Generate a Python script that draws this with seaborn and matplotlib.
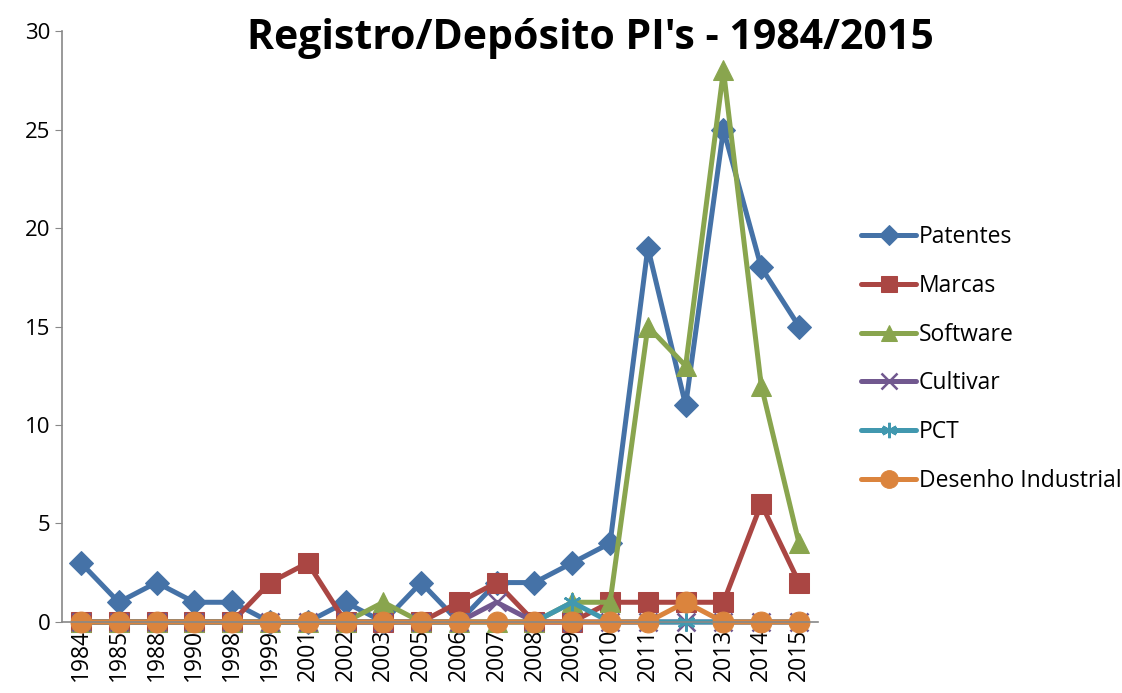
import numpy as np
import pandas as pd
import seaborn as sns
import matplotlib.pyplot as plt

# Data
years = ["1984", "1985", "1988", "1990", "1998", "1999", "2001", "2002", "2003", "2005",
         "2006", "2007", "2008", "2009", "2010", "2011", "2012", "2013", "2014", "2015"]
patentes = [3, 1, 2, 1, 1, 0, 0, 1, 0, 2, 0, 2, 2, 3, 4, 19, 11, 25, 18, 15]
marcas = [0, 0, 0, 0, 0, 2, 3, 0, 0, 0, 1, 2, 0, 0, 1, 1, 1, 1, 6, 2]
software = [0, 0, 0, 0, 0, 0, 0, 0, 1, 0, 0, 0, 0, 1, 1, 15, 13, 28, 12, 4]
cultivar = [0, 0, 0, 0, 0, 0, 0, 0, 0, 0, 0, 1, 0, 0, 0, 0, 0, 0, 0, 0]
pct = [0, 0, 0, 0, 0, 0, 0, 0, 0, 0, 0, 0, 0, 1, 0, 0, 0, 0, 0, 0]
desenho = [0, 0, 0, 0, 0, 0, 0, 0, 0, 0, 0, 0, 0, 0, 0, 0, 1, 0, 0, 0]

series = [
    ("Patentes", patentes, "#4572A7", "D", 12.5),
    ("Marcas", marcas, "#AA4643", "s", 14),
    ("Software", software, "#89A54E", "^", 14),
    ("Cultivar", cultivar, "#71588F", "x", 13),
    ("PCT", pct, "#4198AF", "*", 13),
    ("Desenho Industrial", desenho, "#DB843D", "o", 15),
]

sns.set_style("white")
plt.rcParams['font.family'] = ['Open Sans', 'DejaVu Sans']
plt.rcParams['text.color'] = 'black'
plt.rcParams['xtick.color'] = 'black'
plt.rcParams['ytick.color'] = 'black'

fig = plt.figure(figsize=(11.22, 6.93), dpi=100)
ax = fig.add_axes([0.0553, 0.1025, 0.6737, 0.8527])

pos = np.arange(len(years))
for name, vals, color, marker, ms in series:
    df = pd.DataFrame({"x": pos, "y": vals})
    kw = dict(marker=marker, markersize=ms, markerfacecolor=color, markeredgecolor=color)
    if marker in ("x", "*"):
        kw.update(markeredgewidth=1.8, marker="x" if marker == "x" else (6, 2, 0))
    sns.lineplot(data=df, x="x", y="y", color=color, linewidth=3.6, label=name, ax=ax,
                 clip_on=False, **kw)

ax.set_xlim(-0.5, len(years) - 0.5)
ax.set_ylim(0, 30)
ax.set_yticks(range(0, 31, 5))
ax.set_xticks(pos)
ax.set_xticklabels(years, rotation=90, fontsize=16.5)
ax.set_xticks(np.arange(-0.5, len(years), 1), minor=True)
ax.tick_params(axis="x", which="major", length=0, pad=5)
ax.tick_params(axis="x", which="minor", length=5, color="#888888", direction="out")
ax.tick_params(axis="y", length=5, color="#888888", direction="out", labelsize=16,
               left=True, labelcolor="black")
ax.tick_params(axis="x", labelcolor="black")
ax.set_xlabel("")
ax.set_ylabel("")

for side in ("top", "right"):
    ax.spines[side].set_visible(False)
for side in ("left", "bottom"):
    ax.spines[side].set_color("#888888")
    ax.spines[side].set_linewidth(1.2)

ax.legend(loc="center left", bbox_to_anchor=(1.03, 0.445), frameon=False, fontsize=16.5,
          handlelength=2.4, handletextpad=0.1, labelspacing=1.08, labelcolor="black",
          markerscale=0.85)

fig.text(0.526, 0.945, "Registro/Depósito PI's - 1984/2015", ha="center", va="center",
         fontsize=29.5, fontweight="bold", color="black")

fig.savefig("out.png", dpi=100)
